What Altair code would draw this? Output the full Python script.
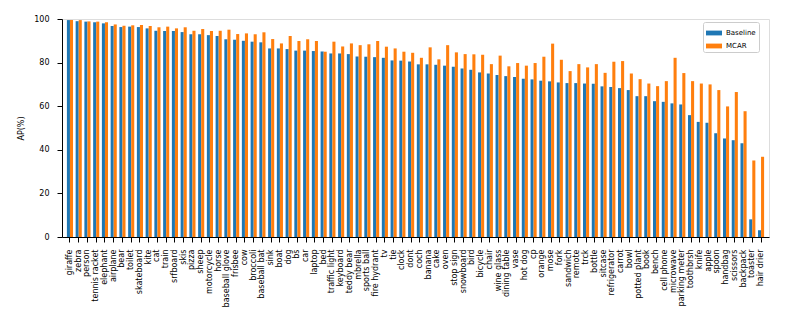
import altair as alt
import pandas as pd

categories = ["giraffe", "zebra", "person", "tennis racket", "elephant", "airplane", "bear", "toilet",
              "skateboard", "kite", "cat", "train", "srfboard", "skis", "pizza", "sheep", "motorcycle",
              "horse", "baseball glove", "frisbee", "cow", "broccoli", "baseball bat", "sink", "boat",
              "dog", "bs", "car", "laptop", "bed", "traffic light", "keyboard", "teddy bear", "mbrella",
              "sports ball", "fire hydrant", "tv", "tie", "clock", "dont", "coch", "banana", "cake",
              "oven", "stop sign", "snowboard", "bird", "bicycle", "chair", "wine glass", "dining table",
              "vase", "hot dog", "cp", "orange", "mose", "fork", "sandwich", "remote", "trck", "bottle",
              "sitcase", "refrigerator", "carrot", "bowl", "potted plant", "book", "bench", "cell phone",
              "microwave", "parking meter", "toothbrsh", "knife", "apple", "spoon", "handbag", "scissors",
              "backpack", "toaster", "hair drier"]

baseline = [99.5, 99.0, 98.8, 98.5, 98.0, 96.8, 96.3, 96.5, 96.3, 95.7, 94.6, 94.5, 94.5, 94.0, 93.0,
            93.0, 92.6, 92.2, 90.7, 90.5, 90.0, 89.6, 89.3, 86.5, 86.5, 86.2, 85.5, 85.5, 85.3, 85.1,
            84.2, 84.2, 83.9, 82.8, 82.7, 82.5, 82.2, 81.0, 80.9, 80.5, 79.2, 79.2, 79.0, 78.6, 78.1,
            77.3, 76.7, 75.5, 75.0, 74.3, 73.8, 73.4, 72.6, 72.3, 71.7, 71.4, 70.9, 70.6, 70.6, 70.4,
            70.3, 69.1, 68.8, 68.3, 67.4, 64.6, 64.6, 62.3, 62.0, 61.3, 60.8, 55.9, 52.8, 52.4, 47.6,
            45.2, 44.4, 43.0, 8.1, 3.1]

mcar = [99.5, 99.5, 98.9, 98.8, 98.5, 97.5, 96.9, 97.1, 97.2, 96.8, 96.2, 96.5, 95.7, 96.2, 94.6,
        95.4, 94.5, 94.6, 95.1, 93.1, 93.4, 93.0, 93.9, 90.8, 88.8, 92.2, 89.9, 90.7, 89.9, 85.0,
        89.6, 87.4, 88.8, 88.0, 88.4, 89.9, 87.3, 86.5, 85.0, 84.5, 82.2, 87.0, 81.5, 88.0, 84.7,
        83.9, 83.8, 83.6, 79.3, 83.2, 78.3, 79.8, 78.6, 79.8, 82.7, 88.7, 81.3, 76.1, 79.3, 77.8,
        79.3, 75.3, 80.4, 80.7, 75.0, 72.4, 70.4, 69.2, 71.5, 82.2, 75.2, 71.5, 70.4, 70.0, 67.4,
        59.9, 66.5, 57.7, 35.1, 36.8]

series = ["Baseline", "MCAR"]
colors = ["#1f77b4", "#ff7f0e"]

rows = []
for c, b, m in zip(categories, baseline, mcar):
    rows.append({"category": c, "series": series[0], "ap": b})
    rows.append({"category": c, "series": series[1], "ap": m})
df = pd.DataFrame(rows)

font = "DejaVu Sans"

chart = alt.Chart(df).mark_bar().encode(
    x=alt.X("category:N", sort=categories, title=None,
            scale=alt.Scale(paddingInner=0.3, paddingOuter=0.56),
            axis=alt.Axis(labelAngle=-90, labelFontSize=8, labelFont=font, labelColor="black",
                          tickColor="black", domainColor="black", tickSize=5, labelPadding=7,
                          labelOverlap=False)),
    xOffset=alt.XOffset("series:N", sort=series),
    y=alt.Y("ap:Q", title="AP(%)", scale=alt.Scale(domain=[0, 100], nice=False),
            axis=alt.Axis(values=[0, 20, 40, 60, 80, 100], grid=False, labelFontSize=8,
                          labelFont=font, labelColor="black", tickColor="black",
                          domainColor="black", tickSize=5, labelPadding=8,
                          titleFont=font, titleFontSize=8,
                          titleFontWeight="normal", titleColor="black", titlePadding=8)),
    color=alt.Color("series:N", sort=series, scale=alt.Scale(domain=series, range=colors),
                    legend=alt.Legend(title=None, orient="none", legendX=641, legendY=3,
                                      fillColor="white", strokeColor="#cccccc", padding=3,
                                      cornerRadius=2, labelFont=font, labelFontSize=7,
                                      labelColor="black", rowPadding=2, labelOffset=4,
                                      symbolType="M-1,-0.3H1V0.3H-1Z", symbolSize=256,
                                      symbolStrokeWidth=0, symbolOpacity=1)),
).properties(
    width=707, height=218,
    autosize=alt.AutoSizeParams(type="none"),
    padding={"left": 54, "top": 11, "right": 12, "bottom": 80},
).configure_view(
    stroke="black", strokeWidth=1
).configure(background="white")

chart.save("out.html", embed_options={"renderer": "svg", "actions": False})
